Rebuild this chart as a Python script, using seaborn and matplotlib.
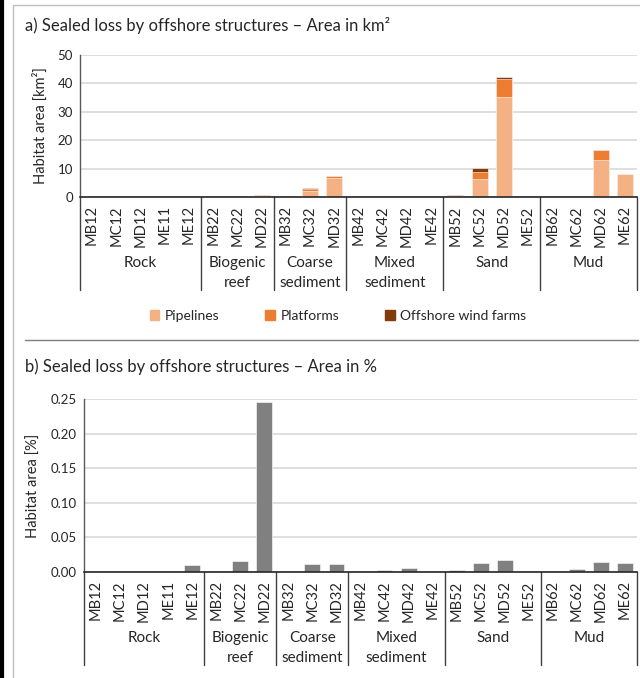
import matplotlib
matplotlib.use("Agg")
import matplotlib.pyplot as plt
import seaborn as sns
import pandas as pd
import numpy as np
from matplotlib.lines import Line2D
from matplotlib.patches import Patch

sns.set_style("white")
plt.rcParams["font.family"] = ["Lato", "DejaVu Sans"]

# Habitat codes and their broad habitat groups
habitats = ["MB12", "MC12", "MD12", "ME11", "ME12",
            "MB22", "MC22", "MD22",
            "MB32", "MC32", "MD32",
            "MB42", "MC42", "MD42", "ME42",
            "MB52", "MC52", "MD52", "ME52",
            "MB62", "MC62", "MD62", "ME62"]
groups = ["Rock", "Biogenic\nreef", "Coarse\nsediment", "Mixed\nsediment", "Sand", "Mud"]
group_sizes = [5, 3, 3, 4, 4, 4]

# Sealed area in km² by structure type
pipelines = [0, 0, 0, 0, 0,
             0, 0, 0.5,
             0, 2.0, 6.8,
             0, 0.2, 0.15, 0,
             0.2, 6.4, 35.3, 0,
             0, 0.2, 13.0, 8.1]
platforms = [0, 0, 0, 0, 0,
             0, 0, 0.1,
             0, 0.9, 0.6,
             0, 0.05, 0.05, 0,
             0.2, 2.4, 6.2, 0,
             0, 0.2, 3.4, 0]
wind_farms = [0, 0, 0, 0, 0,
              0, 0, 0,
              0, 0.3, 0,
              0, 0, 0, 0,
              0.2, 1.3, 0.7, 0,
              0, 0.1, 0, 0]

# Sealed area as share of habitat area in %
area_pct = [0, 0, 0.0014, 0, 0.0101,
            0, 0.0159, 0.245,
            0, 0.012, 0.011,
            0, 0.003, 0.006, 0,
            0.003, 0.0134, 0.0173, 0.0015,
            0, 0.0043, 0.0149, 0.013]

c_pipe = "#F4B183"
c_plat = "#ED7D31"
c_wind = "#843C0C"
c_grey = "#808080"
grid_c = "#D9D9D9"
text_c = "#262626"

df = pd.DataFrame({
    "habitat": habitats,
    "pipelines": pipelines,
    "platforms": platforms,
    "wind": wind_farms,
    "pct": area_pct,
})
df["pipe_plat"] = df["pipelines"] + df["platforms"]
df["total"] = df["pipe_plat"] + df["wind"]

W, H = 640, 678
fig = plt.figure(figsize=(W / 100, H / 100), dpi=100)


def fx(px):
    return px / W


def fy(py):
    return 1 - py / H


def style_axis(ax, ymax, step, fmt, ylabel, sep_depth, label_top):
    ax.set_xlim(-0.5, len(habitats) - 0.5)
    ax.set_ylim(0, ymax)
    ticks = np.arange(0, ymax + step / 2, step)
    ax.set_yticks(ticks)
    ax.set_yticklabels([fmt.format(v) for v in ticks], fontsize=9.5, color=text_c)
    ax.yaxis.grid(True, color=grid_c, linewidth=1.2)
    ax.set_axisbelow(True)
    for s in ["top", "right"]:
        ax.spines[s].set_visible(False)
    ax.spines["left"].set_color("#595959")
    ax.spines["bottom"].set_color("#262626")
    ax.spines["bottom"].set_linewidth(1.2)
    ax.spines["left"].set_linewidth(1.0)
    ax.tick_params(axis="both", length=0, pad=5)
    ax.set_xticks(range(len(habitats)))
    ax.set_xticklabels(habitats, rotation=90, fontsize=10.5, color=text_c)
    ax.tick_params(axis="x", pad=6)
    ax.set_xlabel("")
    ax.set_ylabel(ylabel, fontsize=10.5, color=text_c, labelpad=7)
    trans = ax.get_xaxis_transform()
    # group separators and labels
    edges = np.concatenate([[0], np.cumsum(group_sizes)]) - 0.5
    for e in edges:
        ax.add_line(Line2D([e, e], [0, -sep_depth], transform=trans,
                           color="#404040", linewidth=1.0, clip_on=False))
    for g, a, b in zip(groups, edges[:-1], edges[1:]):
        ax.text((a + b) / 2, label_top, g, transform=trans, ha="center", va="top",
                fontsize=11, color=text_c, linespacing=1.55)


# Panel a: stacked sealed area in km²
ax1 = fig.add_axes([fx(80), fy(197), fx(637) - fx(80), fy(55) - fy(197)])
sns.barplot(data=df, x="habitat", y="total", color=c_wind, width=0.66,
            saturation=1, ax=ax1, edgecolor="white", linewidth=0.4)
sns.barplot(data=df, x="habitat", y="pipe_plat", color=c_plat, width=0.66,
            saturation=1, ax=ax1, edgecolor="white", linewidth=0.4)
sns.barplot(data=df, x="habitat", y="pipelines", color=c_pipe, width=0.66,
            saturation=1, ax=ax1, edgecolor="white", linewidth=0.4)
style_axis(ax1, 50, 10, "{:.0f}", "Habitat area [km²]", (290 - 197) / 142, -(256 - 197) / 142)

# Panel b: sealed area as share of habitat
ax2 = fig.add_axes([fx(84), fy(572), fx(637) - fx(84), fy(399) - fy(572)])
sns.barplot(data=df, x="habitat", y="pct", color=c_grey, width=0.66,
            saturation=1, ax=ax2, edgecolor="white", linewidth=0.4)
style_axis(ax2, 0.25, 0.05, "{:.2f}", "Habitat area [%]", (665 - 572) / 173, -(631 - 572) / 173)

# Titles
fig.text(fx(25), fy(25), "a) Sealed loss by offshore structures – Area in km²",
         fontsize=12, color=text_c, va="center", ha="left")
fig.text(fx(25), fy(367), "b) Sealed loss by offshore structures – Area in %",
         fontsize=12, color=text_c, va="center", ha="left")

# Legend for panel a
handles = [Patch(color=c_pipe, label="Pipelines"),
           Patch(color=c_plat, label="Platforms"),
           Patch(color=c_wind, label="Offshore wind farms")]
leg = fig.legend(handles=handles, loc="center", bbox_to_anchor=(fx(338), fy(316)),
                 ncol=3, frameon=False, fontsize=10, handlelength=0.7,
                 handleheight=0.7, handletextpad=0.4, columnspacing=3.3)
for t in leg.get_texts():
    t.set_color(text_c)

# Panel frame lines
fig.add_artist(Line2D([fx(2), fx(2)], [0, 1], color="black", linewidth=3))
fig.add_artist(Line2D([fx(13), fx(13)], [0, fy(5)], color="#BFBFBF", linewidth=1))
fig.add_artist(Line2D([fx(13), 1], [fy(5), fy(5)], color="#BFBFBF", linewidth=1))
fig.add_artist(Line2D([fx(25), fx(638)], [fy(340), fy(340)], color="#7F7F7F", linewidth=1))

fig.savefig("out.png", dpi=100, facecolor="white")
